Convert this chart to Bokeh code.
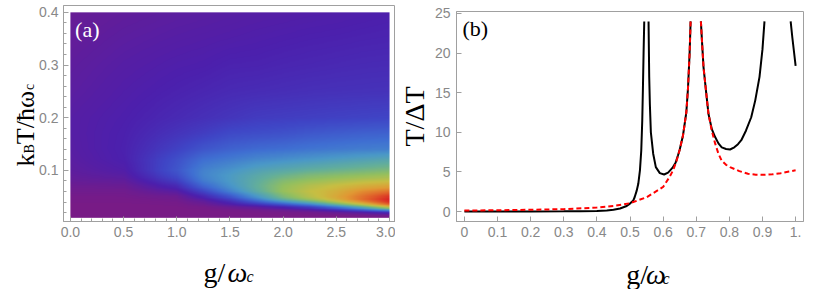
import numpy as np
from bokeh.plotting import figure
from bokeh.models import (LinearColorMapper, FixedTicker, CustomJSTickFormatter, Range1d)
from bokeh.core.properties import value
from bokeh.layouts import row, column
from bokeh.embed import file_html
from bokeh.resources import INLINE

# ---------------- data: panel (a) heat map ----------------
g_cols = [0.0, 0.5, 1.0, 1.25, 1.5, 1.75, 2.0, 2.25, 2.5, 2.75, 3.0]
t_rows = [0.01, 0.015, 0.02, 0.025, 0.03, 0.035, 0.04, 0.045, 0.05, 0.06, 0.07,
          0.08, 0.09, 0.10, 0.12, 0.14, 0.17, 0.20, 0.25, 0.30, 0.35, 0.40]
heat_values = [
    # g: 0     0.5    1.0    1.25   1.5    1.75   2.0    2.25   2.5    2.75   3.0
    [0.000, 0.000, 0.000, 0.000, 0.000, 0.000, 0.000, 0.000, 0.000, 0.002, 0.005],  # 0.010
    [0.000, 0.000, 0.000, 0.000, 0.000, 0.000, 0.003, 0.005, 0.010, 0.020, 0.040],  # 0.015
    [0.000, 0.000, 0.000, 0.000, 0.002, 0.005, 0.010, 0.020, 0.050, 0.090, 0.150],  # 0.020
    [0.000, 0.000, 0.000, 0.003, 0.010, 0.020, 0.040, 0.080, 0.150, 0.270, 0.420],  # 0.025
    [0.000, 0.000, 0.003, 0.010, 0.040, 0.070, 0.120, 0.200, 0.330, 0.500, 0.720],  # 0.030
    [0.000, 0.002, 0.006, 0.030, 0.090, 0.160, 0.250, 0.360, 0.520, 0.700, 0.900],  # 0.035
    [0.005, 0.005, 0.012, 0.050, 0.130, 0.250, 0.380, 0.510, 0.660, 0.820, 0.980],  # 0.040
    [0.008, 0.008, 0.020, 0.080, 0.180, 0.330, 0.500, 0.620, 0.740, 0.880, 1.000],  # 0.045
    [0.010, 0.012, 0.030, 0.120, 0.240, 0.400, 0.560, 0.670, 0.760, 0.870, 0.970],  # 0.050
    [0.020, 0.020, 0.075, 0.200, 0.340, 0.480, 0.610, 0.690, 0.740, 0.820, 0.870],  # 0.060
    [0.030, 0.035, 0.130, 0.280, 0.390, 0.500, 0.600, 0.660, 0.700, 0.740, 0.770],  # 0.070
    [0.045, 0.055, 0.180, 0.330, 0.410, 0.490, 0.570, 0.610, 0.640, 0.670, 0.690],  # 0.080
    [0.055, 0.075, 0.220, 0.350, 0.410, 0.470, 0.520, 0.560, 0.580, 0.600, 0.620],  # 0.090
    [0.062, 0.090, 0.240, 0.345, 0.390, 0.440, 0.470, 0.500, 0.520, 0.540, 0.560],  # 0.100
    [0.070, 0.105, 0.225, 0.300, 0.330, 0.360, 0.380, 0.400, 0.420, 0.440, 0.460],  # 0.120
    [0.075, 0.108, 0.190, 0.240, 0.270, 0.290, 0.300, 0.315, 0.325, 0.335, 0.340],  # 0.140
    [0.078, 0.105, 0.155, 0.180, 0.210, 0.220, 0.230, 0.245, 0.255, 0.265, 0.270],  # 0.170
    [0.078, 0.100, 0.130, 0.145, 0.160, 0.175, 0.180, 0.185, 0.190, 0.195, 0.200],  # 0.200
    [0.068, 0.090, 0.110, 0.120, 0.130, 0.135, 0.140, 0.145, 0.148, 0.150, 0.152],  # 0.250
    [0.060, 0.080, 0.095, 0.100, 0.110, 0.112, 0.118, 0.122, 0.126, 0.130, 0.132],  # 0.300
    [0.050, 0.068, 0.080, 0.085, 0.090, 0.095, 0.100, 0.105, 0.108, 0.112, 0.115],  # 0.350
    [0.040, 0.055, 0.066, 0.070, 0.075, 0.080, 0.083, 0.087, 0.090, 0.095, 0.100],  # 0.400
]

# ---------------- data: panel (b) curves ----------------
black1_x = [0.0, 0.1, 0.2, 0.3, 0.35, 0.4, 0.43, 0.45, 0.47, 0.49, 0.5, 0.51, 0.514,
            0.52, 0.525, 0.53, 0.534, 0.537, 0.539, 0.541, 0.543]
black1_y = [0.0, 0.0, 0.0, 0.02, 0.04, 0.08, 0.14, 0.22, 0.38, 0.7, 1.0, 1.4, 1.8,
            2.6, 3.5, 5.2, 7.7, 11.5, 15.5, 20.0, 24.0]
black2_x = [0.556, 0.558, 0.56, 0.563, 0.57, 0.578, 0.59, 0.603, 0.615, 0.628, 0.638,
            0.645, 0.65, 0.66, 0.67, 0.675, 0.68, 0.683]
black2_y = [24.0, 17.0, 13.5, 10.0, 7.3, 5.6, 4.85, 4.67, 4.9, 5.5, 6.2, 7.1, 7.8,
            9.6, 12.5, 15.5, 20.0, 24.0]
black3_x = [0.714, 0.718, 0.722, 0.73, 0.737, 0.747, 0.757, 0.767, 0.777, 0.79, 0.802,
            0.815, 0.826, 0.836, 0.85, 0.866, 0.878, 0.891, 0.9, 0.906]
black3_y = [24.0, 21.0, 18.2, 15.0, 12.3, 10.4, 9.4, 8.6, 8.1, 7.9, 7.83, 8.1, 8.5,
            9.0, 10.2, 11.9, 14.0, 17.0, 20.5, 24.0]
black4_x = [0.985, 0.99, 0.995, 1.0]
black4_y = [24.0, 22.0, 20.2, 18.4]
red1_x = [0.0, 0.1, 0.2, 0.3, 0.4, 0.45, 0.5, 0.55, 0.6, 0.62, 0.63, 0.64, 0.65, 0.66,
          0.67, 0.675, 0.68, 0.683]
red1_y = [0.12, 0.16, 0.22, 0.3, 0.5, 0.7, 1.05, 1.8, 3.1, 4.4, 5.2, 6.3, 7.8, 9.6,
          12.5, 15.5, 20.0, 24.0]
red2_x = [0.714, 0.718, 0.722, 0.73, 0.737, 0.747, 0.757, 0.767, 0.777, 0.79, 0.802,
          0.83, 0.856, 0.88, 0.906, 0.93, 0.955, 0.98, 1.0]
red2_y = [24.0, 21.0, 18.2, 15.0, 12.3, 10.2, 8.6, 7.3, 6.4, 5.9, 5.6, 5.1, 4.76,
          4.65, 4.63, 4.7, 4.84, 5.05, 5.2]

x_ticks_a = [0.0, 0.5, 1.0, 1.5, 2.0, 2.5, 3.0]
y_ticks_a = [0.1, 0.2, 0.3, 0.4]
x_ticks_b = [0.0, 0.1, 0.2, 0.3, 0.4, 0.5, 0.6, 0.7, 0.8, 0.9, 1.0]
y_ticks_b = [0, 5, 10, 15, 20, 25]

# ---------------- colour map (rainbow-like) ----------------
anchors = [(0.00, "#781b86"), (0.10, "#4c1fad"), (0.20, "#3f45c6"), (0.30, "#3f6fd2"),
           (0.40, "#4a98c8"), (0.50, "#62ae9c"), (0.60, "#92bf60"), (0.70, "#c8be42"),
           (0.80, "#e09a34"), (0.90, "#e0622a"), (1.00, "#da2424")]


def _rgb(h):
    return np.array([int(h[i:i + 2], 16) for i in (1, 3, 5)], dtype=float)


palette = []
for i in range(256):
    t = i / 255
    for k in range(len(anchors) - 1):
        t0, c0 = anchors[k]
        t1, c1 = anchors[k + 1]
        if t0 <= t <= t1:
            f = (t - t0) / (t1 - t0)
            c = _rgb(c0) * (1 - f) + _rgb(c1) * f
            palette.append("#%02x%02x%02x" % tuple(int(round(v)) for v in c))
            break

# display resampling of the read grid onto a fine raster
H = np.array(heat_values)
gf = np.linspace(0.0, 3.0, 321)
tf = np.linspace(0.01, 0.40, 391)
tmp = np.array([np.interp(tf, t_rows, H[:, j]) for j in range(len(g_cols))]).T
img = np.array([np.interp(gf, g_cols, tmp[i, :]) for i in range(len(tf))])

GRAY = "#a0a0a0"
TICK_TXT = "#888888"
SERIF = "Liberation Serif"
SANS = "Liberation Sans"


def style(p):
    p.grid.visible = False
    p.outline_line_color = GRAY
    p.outline_line_width = 1
    p.background_fill_color = "white"
    p.border_fill_color = "white"
    for ax in p.axis:
        ax.axis_line_color = GRAY
        ax.major_tick_line_color = GRAY
        ax.minor_tick_line_color = GRAY
        ax.major_tick_in = 5
        ax.major_tick_out = 0
        ax.minor_tick_in = 3
        ax.minor_tick_out = 0
        ax.major_label_text_color = TICK_TXT
        ax.major_label_text_font = SANS
        ax.major_label_text_font_size = "14px"
        ax.major_label_standoff = 5


def txt(p, s, x, y, size, angle=0.0, color="black", style_="normal"):
    p.text(x=[x], y=[y], text=[s], angle=angle, text_font=value(SERIF),
           text_font_size=value(f"{size}px"), text_color=color,
           text_font_style=style_, text_baseline="alphabetic", text_align="left")


def label_fig(w, h, top=0, bottom=0):
    # a text-only canvas; its ranges are in pixels of its own frame
    f = figure(width=w, height=h, output_backend="svg", toolbar_location=None,
               x_range=Range1d(0, w), y_range=Range1d(0, h - top - bottom),
               x_axis_location=None, y_axis_location=None,
               min_border_left=0, min_border_right=0,
               min_border_top=top, min_border_bottom=bottom)
    f.grid.visible = False
    f.outline_line_color = None
    f.background_fill_color = "white"
    f.border_fill_color = "white"
    return f


# ---------------- panel (a): canvas x 36..395, y 0..246 ----------------
pa = figure(width=359, height=246, output_backend="svg", toolbar_location=None,
            x_range=Range1d(-0.065, 3.056), y_range=Range1d(0.003, 0.413),
            min_border_left=25, min_border_right=0, min_border_top=5,
            min_border_bottom=25)
mapper = LinearColorMapper(palette=palette, low=0.0, high=1.0)
pa.image(image=[img], x=0.0, y=0.01, dw=3.0, dh=0.39, color_mapper=mapper)
pa.xaxis.ticker = FixedTicker(ticks=x_ticks_a,
                              minor_ticks=[round(0.1 * i, 2) for i in range(31)])
pa.yaxis.ticker = FixedTicker(ticks=y_ticks_a,
                              minor_ticks=[round(0.02 * i, 3) for i in range(1, 21)])
pa.xaxis.formatter = CustomJSTickFormatter(code="return tick.toFixed(1);")
pa.yaxis.formatter = CustomJSTickFormatter(code="return tick.toFixed(1);")
style(pa)
txt(pa, "(a)", 0.044, 0.367, 22, color="white")

# y label of (a): k_B T/ħω_c ; canvas x 0..36, frame y 5..221
ya = label_fig(36, 246, top=5, bottom=25)
txt(ya, "k", 24.5, 55, 26, angle=np.pi / 2)
txt(ya, "B", 29, 68, 14, angle=np.pi / 2)
txt(ya, "T/ħω", 24.5, 77.3, 26, angle=np.pi / 2)
txt(ya, "c", 29, 131.5, 14, angle=np.pi / 2)

# x label of (a): g/ω_c ; canvas x 0..395, y 246..289
xa = label_fig(395, 43)
txt(xa, "g/", 203, 17, 28)
txt(xa, "ω", 227, 17, 28, style_="italic")
txt(xa, "c", 246, 13, 16, style_="italic")

# ---------------- panel (b): canvas x 395..818, y 0..246 ----------------
pb = figure(width=423, height=246, output_backend="svg", toolbar_location=None,
            x_range=Range1d(-0.0238, 1.0238), y_range=Range1d(-1.26, 25.25),
            min_border_left=56, min_border_right=15, min_border_top=11,
            min_border_bottom=25)
for xs, ys in [(black1_x, black1_y), (black2_x, black2_y), (black3_x, black3_y),
               (black4_x, black4_y)]:
    pb.line(xs, ys, line_color="black", line_width=2)
for xs, ys in [(red1_x, red1_y), (red2_x, red2_y)]:
    pb.line(xs, ys, line_color="#ff0000", line_width=2, line_dash="5 3")
pb.xaxis.ticker = FixedTicker(ticks=x_ticks_b, minor_ticks=[])
pb.yaxis.ticker = FixedTicker(ticks=y_ticks_b, minor_ticks=[])
pb.xaxis.formatter = CustomJSTickFormatter(
    code="if (Math.abs(tick) < 1e-9) return '0'; if (Math.abs(tick-1) < 1e-9) return '1.'; return tick.toFixed(1);")
style(pb)
pb.yaxis.major_label_standoff = 6
pb.yaxis.axis_label = "T/ΔT"
pb.yaxis.axis_label_text_font = SERIF
pb.yaxis.axis_label_text_font_size = "28px"
pb.yaxis.axis_label_text_font_style = "normal"
pb.yaxis.axis_label_text_color = "black"
pb.yaxis.axis_label_standoff = 2
txt(pb, "(b)", -0.006, 23.1, 22)

# x label of (b): g/ω_c ; canvas x 395..818, y 246..289
xb = label_fig(423, 43)
txt(xb, "g/", 207, 15, 28)
txt(xb, "ω", 231, 15, 28, style_="italic")
txt(xb, "c", 251, 11, 16, style_="italic")

left_block = column(row(ya, pa), xa)
right_block = column(pb, xb)
layout = row(left_block, right_block)
open("out.html", "w").write(file_html(layout, INLINE))
